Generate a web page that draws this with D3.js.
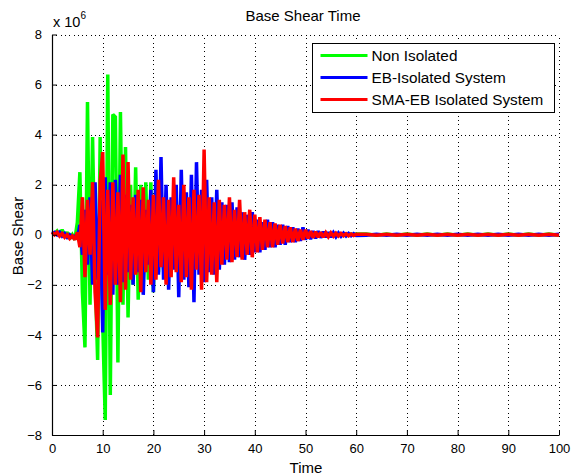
<!DOCTYPE html>
<html><head><meta charset="utf-8">
<script src="https://cdn.jsdelivr.net/npm/d3@7"></script>
<style>
html,body{margin:0;padding:0;background:#fff;}
svg{display:block;font-family:"Liberation Sans",Arial,sans-serif;}
</style></head>
<body><svg id="c" width="573" height="476"></svg>
<script>
// ---- data (Base Shear in units of 1e6) ----
const time = d3.range(0, 60.5, 0.5).concat(d3.range(62, 101, 2));
const nonIsolated = [
  0.10, 0.05, 0.15, 0.00, 0.20, -0.05, 0.10, -0.15, 0.00, -0.20,
  0.50, 2.50, -2.30, -4.50, 5.30, -2.80, 3.90, -1.50, -5.00, 3.90,
  -3.50, -7.40, 6.40, -6.40, 4.80, 4.70, -5.10, 4.90, -2.80, 3.50,
  -3.30, 2.00, -2.00, 2.70, -2.60, 2.00, -2.00, 2.10, -1.80, 2.10,
  -2.30, 2.20, -1.50, 1.70, -1.40, 1.50, -1.60, 1.20, -1.30, 1.40,
  -1.10, 1.00, -1.20, 1.10, -0.90, 0.90, -0.80, 1.00, -0.70, 0.80,
  0.70, -0.60, 0.60, -0.50, 0.55, -0.45, 0.50, -0.40, 0.45, -0.35,
  0.40, -0.35, 0.35, -0.30, 0.30, -0.28, 0.28, -0.25, 0.25, -0.22,
  0.22, -0.20, 0.20, -0.18, 0.18, -0.16, 0.16, -0.14, 0.14, -0.12,
  0.12, -0.10, 0.10, -0.09, 0.09, -0.08, 0.08, -0.07, 0.07, -0.06,
  0.06, -0.05, 0.05, -0.05, 0.05, -0.04, 0.04, -0.04, 0.04, -0.03,
  0.04, -0.03, 0.03, -0.03, 0.03, -0.03, 0.03, -0.02, 0.03, -0.02,
  0.03,
  0.03, -0.02, 0.03, -0.02, 0.03, -0.02, 0.03, -0.02, 0.03, -0.02,
  0.03, -0.02, 0.03, -0.02, 0.03, -0.02, 0.03, -0.02, 0.03, -0.02
];
const ebIsolated = [
  0.05, 0.10, 0.00, 0.10, -0.05, 0.05, -0.10, 0.00, -0.10, -0.05,
  -0.15, 0.40, -0.80, 1.00, -1.20, 1.50, -2.00, 2.10, -1.80, 1.40,
  -3.90, 2.30, -1.60, 2.10, -2.40, 2.20, -2.00, 2.40, -1.90, 1.60,
  -1.50, 1.20, -2.00, 1.60, -1.50, 1.40, -2.40, 1.00, -1.20, 1.80,
  -2.30, 2.60, -1.60, 3.10, -1.80, 2.00, -2.20, 1.50, -1.40, 2.00,
  -2.50, 2.60, -1.80, 1.70, -2.10, 2.40, -2.70, 2.90, -1.60, 1.80,
  -1.90, 2.20, -1.50, 1.50, -1.60, 1.80, -1.40, 1.30, -1.20, 1.20,
  -1.10, 1.30, -1.00, 1.10, -0.90, 0.90, -1.00, 0.80, -0.80, 0.90,
  -0.70, 0.60, -0.70, 0.50, -0.60, 0.60, -0.50, 0.50, -0.50, 0.40,
  -0.40, 0.40, -0.40, 0.35, -0.30, 0.30, -0.30, 0.25, -0.25, 0.30,
  -0.20, 0.20, -0.18, 0.15, -0.15, 0.15, -0.12, 0.12, -0.10, 0.10,
  -0.10, 0.08, -0.08, 0.07, -0.06, 0.06, -0.05, 0.05, -0.04, 0.04,
  -0.03,
  -0.02, 0.02, -0.02, 0.02, -0.02, 0.02, -0.02, 0.02, -0.02, 0.02,
  -0.02, 0.02, -0.02, 0.02, -0.02, 0.02, -0.02, 0.02, -0.02, 0.02
];
const smaEbIsolated = [
  0.10, 0.00, 0.10, -0.05, 0.05, -0.10, 0.00, -0.15, -0.05, -0.20,
  0.10, -0.50, 1.50, -1.70, 1.40, -0.80, 2.10, -2.30, -4.10, 2.10,
  3.30, -3.00, 1.80, -2.80, 2.10, -2.00, 1.70, -2.70, 3.20, -2.20,
  2.90, -1.80, 1.50, -1.60, 1.80, -2.30, 1.90, -1.50, 1.40, -2.00,
  1.60, -1.80, 2.20, -1.30, 1.50, -2.00, 1.40, -1.70, 2.30, -1.50,
  1.20, -1.90, 2.00, -1.70, 1.50, -2.20, 1.80, -1.40, 1.60, -2.20,
  3.40, -1.90, 1.50, -1.60, 1.30, -1.90, 1.40, -1.20, 1.20, -1.00,
  1.50, -1.10, 1.00, -0.90, 1.40, -1.00, 0.90, -0.80, 1.00, -0.90,
  0.80, -0.70, 0.70, -0.60, 0.60, -0.50, 0.50, -0.50, 0.45, -0.40,
  0.40, -0.35, 0.35, -0.30, 0.30, -0.30, 0.25, -0.25, 0.20, -0.20,
  0.20, -0.15, 0.15, -0.12, 0.12, -0.10, 0.10, -0.10, 0.08, -0.08,
  0.08, -0.06, 0.06, -0.05, 0.05, -0.04, 0.04, -0.04, 0.03, -0.03,
  0.02,
  0.02, -0.02, 0.02, -0.02, 0.02, -0.02, 0.02, -0.02, 0.02, -0.02,
  0.02, -0.02, 0.02, -0.02, 0.02, -0.02, 0.02, -0.02, 0.02, -0.02
];
const seriesNames = ["Non Isolated", "EB-Isolated System", "SMA-EB Isolated System"];
const seriesColors = ["#00ff00", "#0000ff", "#ff0000"];
const xTicks = [0, 10, 20, 30, 40, 50, 60, 70, 80, 90, 100];
const yTicks = [-8, -6, -4, -2, 0, 2, 4, 6, 8];

// ---- drawing ----
const svg = d3.select("#c");
const L = 52, R = 559, T = 34.5, B = 435;
const x = d3.scaleLinear().domain([0, 100]).range([L, R]);
const y = d3.scaleLinear().domain([-8, 8]).range([B, T]);

// grid
const grid = svg.append("g").attr("stroke", "#000").attr("stroke-width", 1)
  .attr("stroke-dasharray", "1,3.3").attr("shape-rendering", "crispEdges");
xTicks.filter(d => d !== 0).forEach(d => {
  grid.append("line").attr("x1", Math.round(x(d)) + 0.5).attr("x2", Math.round(x(d)) + 0.5)
    .attr("y1", B).attr("y2", T);
});
yTicks.filter(d => d !== -8).forEach(d => {
  grid.append("line").attr("x1", L).attr("x2", R)
    .attr("y1", Math.round(y(d)) + 0.5).attr("y2", Math.round(y(d)) + 0.5);
});

// series
const series = [nonIsolated, ebIsolated, smaEbIsolated];
const line = d3.line().x((d, i) => x(time[i])).y(d => y(d));
series.forEach((s, k) => {
  svg.append("path").datum(s).attr("d", line)
    .attr("fill", "none").attr("stroke", seriesColors[k])
    .attr("stroke-width", 3.5).attr("stroke-linejoin", "miter").attr("stroke-miterlimit", 2);
});

// axes
const xAxis = d3.axisBottom(x).tickValues(xTicks).tickSizeInner(-5).tickSizeOuter(0).tickPadding(9);
const gx = svg.append("g").attr("transform", `translate(0,${B})`).call(xAxis);
const yAxis = d3.axisLeft(y).tickValues(yTicks).tickSizeInner(-5).tickSizeOuter(0).tickPadding(10);
const gy = svg.append("g").attr("transform", `translate(${L},0)`).call(yAxis);
[gx, gy].forEach(g => {
  g.select(".domain").attr("stroke", "#000").attr("stroke-width", 1.2);
  g.selectAll(".tick line").attr("stroke", "#000");
  g.selectAll("text").attr("font-size", 13).attr("fill", "#000")
    .attr("font-family", "Liberation Sans, Arial, sans-serif");
});
gx.selectAll("text").attr("dy", "0.71em");

// exponent label
const ex = svg.append("text").attr("x", 53).attr("y", 27).attr("font-size", 14.5).attr("fill", "#000");
ex.append("tspan").text("x 10");
ex.append("tspan").attr("font-size", 10).attr("dy", -8).text("6");

// title and labels
svg.append("text").attr("x", 303).attr("y", 21).attr("text-anchor", "middle")
  .attr("font-size", 15).attr("fill", "#000").text("Base Shear Time");
svg.append("text").attr("x", 306).attr("y", 473).attr("text-anchor", "middle")
  .attr("font-size", 15).attr("fill", "#000").text("Time");
svg.append("text").attr("transform", "translate(23,236) rotate(-90)").attr("text-anchor", "middle")
  .attr("font-size", 15).attr("fill", "#000").text("Base Shear");

// legend
const lg = svg.append("g");
lg.append("rect").attr("x", 312.5).attr("y", 43.5).attr("width", 242).attr("height", 69)
  .attr("fill", "#fff").attr("stroke", "#000").attr("stroke-width", 1);
const rowY = [55.5, 77.5, 99.5];
seriesNames.forEach((n, k) => {
  lg.append("line").attr("x1", 320.5).attr("x2", 367.5).attr("y1", rowY[k]).attr("y2", rowY[k])
    .attr("stroke", seriesColors[k]).attr("stroke-width", 3);
  lg.append("text").attr("x", 371.5).attr("y", rowY[k] + 5.5).attr("font-size", 15.3)
    .attr("fill", "#000").text(n);
});
</script></body></html>
